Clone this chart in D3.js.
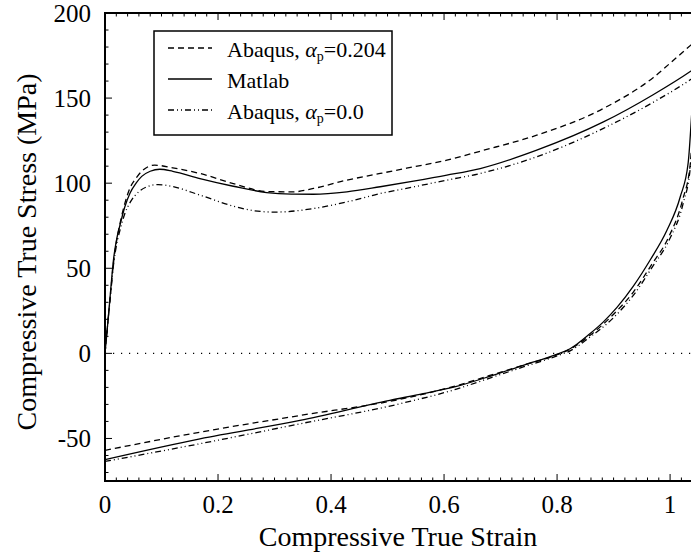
<!DOCTYPE html>
<html>
<head>
  <meta charset="utf-8" />
  <script src="https://cdn.jsdelivr.net/npm/d3@7"></script>
</head>
<body style="margin:0">
  <svg id="chart" width="691" height="557" style="font-family: 'Liberation Serif', serif"></svg>

  <script>
    // loading branch (strain, stress in MPa)
    const loadStrainMatlab = [0, 0.005, 0.01, 0.015, 0.02, 0.027, 0.035, 0.044, 0.055, 0.065, 0.08, 0.097, 0.12, 0.168, 0.227, 0.286, 0.33, 0.369, 0.428, 0.487, 0.546, 0.605, 0.664, 0.764, 0.882, 0.97, 1.035, 1.05];
    const loadStressMatlab = [0, 18, 37, 55, 66, 76, 86, 94, 100, 104, 107, 108.2, 107, 102.7, 98.2, 94.5, 93.6, 93.5, 94.9, 97.9, 101.2, 104.7, 108.6, 119.4, 136, 152, 165.5, 169];

    const loadStrainAlpha204 = [0, 0.005, 0.01, 0.015, 0.02, 0.027, 0.035, 0.044, 0.055, 0.065, 0.088, 0.12, 0.168, 0.227, 0.286, 0.333, 0.369, 0.428, 0.487, 0.546, 0.605, 0.664, 0.764, 0.882, 0.97, 1.012, 1.05];
    const loadStressAlpha204 = [0, 18, 36, 53, 65, 77, 88, 97, 103, 107, 110.6, 109, 105.7, 99.8, 95.1, 94.9, 96.9, 101.8, 105.7, 109.6, 113.5, 118.8, 128.2, 143.9, 162, 174, 185];

    const loadStrainAlpha0 = [0, 0.005, 0.01, 0.015, 0.02, 0.027, 0.035, 0.045, 0.06, 0.075, 0.094, 0.12, 0.168, 0.227, 0.26, 0.3, 0.345, 0.369, 0.428, 0.487, 0.546, 0.605, 0.664, 0.764, 0.882, 0.97, 1.035, 1.05];
    const loadStressAlpha0 = [0, 18, 35, 52, 63, 73, 82, 89, 95, 98, 99.2, 98, 93, 86.5, 84, 83, 84, 85.1, 89, 93.9, 97.8, 101.8, 105.7, 115.5, 132.2, 147.5, 160.6, 164];

    // unloading branch
    const unloadStrainMatlab = [0, 0.168, 0.345, 0.504, 0.563, 0.622, 0.681, 0.74, 0.799, 0.823, 0.858, 0.882, 0.906, 0.935, 0.965, 0.994, 1.018, 1.032, 1.04, 1.05];
    const unloadStressMatlab = [-62.4, -50.2, -39.4, -27.6, -23.7, -19.4, -13.5, -7, -0.6, 2.7, 11.5, 18.5, 27, 39.5, 55, 72, 92, 112, 150, 200];

    const unloadStrainAlpha204 = [0, 0.168, 0.345, 0.522, 0.622, 0.681, 0.74, 0.8, 0.823, 0.858, 0.9, 0.935, 0.967, 0.997, 1.022, 1.036, 1.042, 1.05];
    const unloadStressAlpha204 = [-57, -46.3, -36.5, -27, -19, -13, -7, -0.8, 2.5, 10.5, 23, 36, 52, 68, 90, 112, 140, 188];

    const unloadStrainAlpha0 = [0, 0.168, 0.345, 0.522, 0.622, 0.681, 0.74, 0.8, 0.823, 0.858, 0.9, 0.937, 0.969, 0.999, 1.023, 1.036, 1.043, 1.05];
    const unloadStressAlpha0 = [-63.5, -53.1, -41.4, -29.6, -21, -14.5, -8, -1.5, 1.5, 9.5, 21, 35, 51, 67, 88, 110, 140, 164];

    const xTicks = [0, 0.2, 0.4, 0.6, 0.8, 1];
    const yTicks = [-50, 0, 50, 100, 150, 200];

    const margin = { top: 13, right: 0, bottom: 76, left: 105 };
    const W = 691, H = 557;
    const FONT_STYLE = "font-family: 'Liberation Serif', serif";
    const svg = d3.select("#chart");

    const x = d3.scaleLinear().domain([0, 1.037]).range([margin.left, W - margin.right]);
    const y = d3.scaleLinear().domain([-75, 200]).range([H - margin.bottom, margin.top]);

    const zip = (xs, ys) => xs.map((v, i) => [v, ys[i]]);

    svg.append("clipPath").attr("id", "clip")
      .append("rect")
      .attr("x", x(0)).attr("y", y(200))
      .attr("width", x(1.037) - x(0)).attr("height", y(-75) - y(200));

    const plot = svg.append("g").attr("clip-path", "url(#clip)");

    // zero line
    plot.append("line")
      .attr("x1", x(0)).attr("x2", x(1.037))
      .attr("y1", y(0)).attr("y2", y(0))
      .attr("stroke", "#000").attr("stroke-width", 1.2)
      .attr("stroke-dasharray", "1.2,6.8");

    const line = d3.line()
      .x(d => x(d[0]))
      .y(d => y(d[1]))
      .curve(d3.curveMonotoneX);

    const series = [
      { load: zip(loadStrainAlpha204, loadStressAlpha204), unload: zip(unloadStrainAlpha204, unloadStressAlpha204), dash: "6,4" },
      { load: zip(loadStrainMatlab, loadStressMatlab), unload: zip(unloadStrainMatlab, unloadStressMatlab), dash: null },
      { load: zip(loadStrainAlpha0, loadStressAlpha0), unload: zip(unloadStrainAlpha0, unloadStressAlpha0), dash: "6,3,1,3,1,3" }
    ];

    series.forEach(s => {
      [s.load, s.unload].forEach(pts => {
        plot.append("path")
          .datum(pts)
          .attr("fill", "none")
          .attr("stroke", "#000")
          .attr("stroke-width", 1.3)
          .attr("stroke-dasharray", s.dash)
          .attr("d", line);
      });
    });

    // axes frame
    const frame = svg.append("g").attr("stroke", "#000").attr("stroke-width", 2);
    frame.append("line").attr("x1", x(0)).attr("x2", W).attr("y1", y(-75)).attr("y2", y(-75));
    frame.append("line").attr("x1", x(0)).attr("x2", W).attr("y1", y(200)).attr("y2", y(200));
    frame.append("line").attr("x1", x(0)).attr("x2", x(0)).attr("y1", y(200) - 1).attr("y2", y(-75) + 1);

    // ticks, pointing inward
    const ticks = svg.append("g").attr("stroke", "#000").attr("stroke-width", 1);
    d3.range(0, 1.04, 0.02).forEach(v => {
      const major = xTicks.some(t => Math.abs(t - v) < 1e-6);
      const len = major ? 7 : 3.5;
      ticks.append("line").attr("x1", x(v)).attr("x2", x(v)).attr("y1", y(-75)).attr("y2", y(-75) - len);
      ticks.append("line").attr("x1", x(v)).attr("x2", x(v)).attr("y1", y(200)).attr("y2", y(200) + len);
    });
    d3.range(-70, 201, 10).forEach(v => {
      const major = yTicks.includes(v);
      const len = major ? 7 : 3.5;
      ticks.append("line").attr("x1", x(0)).attr("x2", x(0) + len).attr("y1", y(v)).attr("y2", y(v));
    });

    // tick labels
    svg.append("g").selectAll("text").data(xTicks).join("text")
      .attr("style", FONT_STYLE)
      .attr("x", d => x(d)).attr("y", y(-75) + 32)
      .attr("text-anchor", "middle").attr("font-size", 25)
      .text(d => d);
    svg.append("g").selectAll("text").data(yTicks).join("text")
      .attr("style", FONT_STYLE)
      .attr("x", x(0) - 14).attr("y", d => y(d) + 9)
      .attr("text-anchor", "end").attr("font-size", 25)
      .text(d => d);

    // axis titles
    svg.append("text")
      .attr("style", FONT_STYLE)
      .attr("x", 398).attr("y", 546)
      .attr("text-anchor", "middle").attr("font-size", 28)
      .text("Compressive True Strain");
    svg.append("text")
      .attr("style", FONT_STYLE)
      .attr("transform", "translate(36,252) rotate(-90)")
      .attr("text-anchor", "middle").attr("font-size", 28)
      .text("Compressive True Stress (MPa)");

    // legend
    const legend = svg.append("g");
    legend.append("rect")
      .attr("x", 154).attr("y", 31).attr("width", 238).attr("height", 104)
      .attr("fill", "#fff").attr("stroke", "#000").attr("stroke-width", 1.5);

    const legendItems = [
      { dash: "6,4", label: "Abaqus, ", alpha: "0.204" },
      { dash: null, label: "Matlab", alpha: null },
      { dash: "6,3,1,3,1,3", label: "Abaqus, ", alpha: "0.0" }
    ];
    legendItems.forEach((d, i) => {
      const ly = 48 + i * 31;
      legend.append("line")
        .attr("x1", 168).attr("x2", 212).attr("y1", ly).attr("y2", ly)
        .attr("stroke", "#000").attr("stroke-width", 1.3)
        .attr("stroke-dasharray", d.dash);
      const t = legend.append("text")
        .attr("style", FONT_STYLE)
        .attr("x", 227).attr("y", ly + 9).attr("font-size", 22);
      t.append("tspan").text(d.label);
      if (d.alpha) {
        t.append("tspan").attr("font-style", "italic").text("α");
        t.append("tspan").attr("font-size", 14).attr("dy", 4).text("p");
        t.append("tspan").attr("dy", -4).text("=" + d.alpha);
      }
    });
  </script>
</body>
</html>
